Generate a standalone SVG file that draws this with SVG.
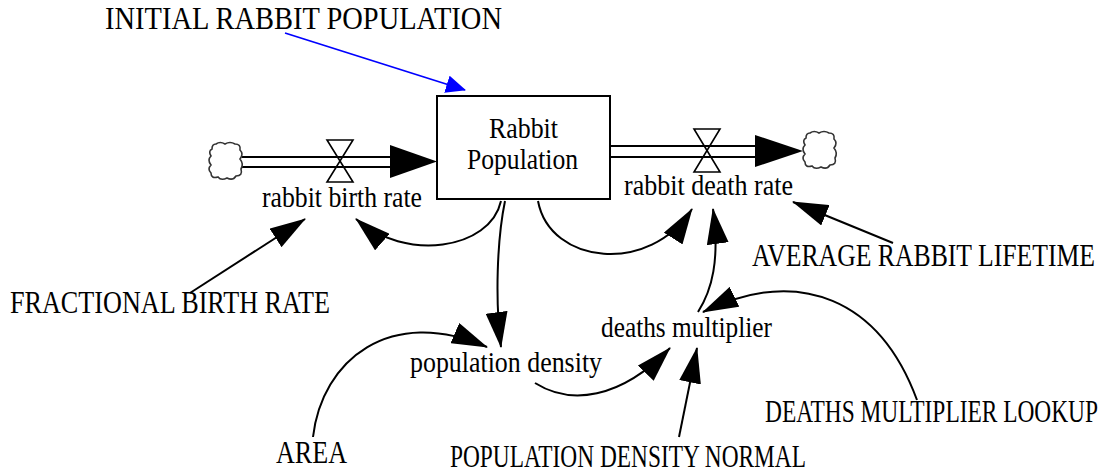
<svg xmlns="http://www.w3.org/2000/svg" width="1104" height="473" viewBox="0 0 1104 473">
<style>
  text { font-family: "Liberation Serif", "Times New Roman", serif; fill: #000; }
  .lc { font-size: 30px; }
  .uc { font-size: 31px; }
  .conn { fill: none; stroke: #000; stroke-width: 2; marker-end: url(#head); }
  .info { fill: none; stroke: #0000ff; stroke-width: 1.8; marker-end: url(#bluehead); }
  .pipe { stroke: #000; stroke-width: 2; }
  .fhead { fill: #000; }
  .valve { fill: none; stroke: #000; stroke-width: 1.6; }
  .cloud { fill: #fff; stroke: #333; stroke-width: 1.6; }
  .stock { fill: #fff; stroke: #000; stroke-width: 2; }
</style>
<defs>
  <marker id="head" markerUnits="userSpaceOnUse" viewBox="0 0 36 22" markerWidth="36" markerHeight="22" refX="35" refY="11" orient="auto">
    <path d="M0,0 L36,11 L0,22 Z" fill="#000"/>
  </marker>
  <marker id="bluehead" markerUnits="userSpaceOnUse" viewBox="0 0 20 18" markerWidth="20" markerHeight="18" refX="19" refY="9" orient="auto">
    <path d="M0,0 L20,9 L0,18 Z" fill="#0000ff"/>
  </marker>
  <path id="cloudshape" d="M8,2 Q12,-1 17,2 Q22,-1 27,2 Q33,2 32,8 Q36,12 32,17 Q36,22 33,27 Q35,34 28,34 Q25,39 19,36 Q13,39 10,35 Q3,37 3,31 Q-1,27 3,23 Q-1,18 3,14 Q0,9 4,7 Q4,2 8,2 Z"/>
</defs>

<g id="flows">
  <line class="pipe" x1="242" y1="157" x2="392" y2="157"/>
  <line class="pipe" x1="242" y1="167" x2="392" y2="167"/>
  <polygon class="fhead" points="390,145 437,161.5 390,178"/>
  <line class="pipe" x1="611" y1="146" x2="757" y2="146"/>
  <line class="pipe" x1="611" y1="157" x2="757" y2="157"/>
  <polygon class="fhead" points="755,135 803,151 755,167"/>
</g>

<g id="cloud-source">
  <use href="#cloudshape" class="cloud" transform="translate(208,142)"/>
</g>
<g id="cloud-sink">
  <use href="#cloudshape" class="cloud" transform="translate(802,131)"/>
</g>

<g id="stock-rabbit-population">
  <rect class="stock" x="437" y="96" width="173" height="103"/>
  <text class="lc" transform="translate(489,138) scale(0.8625,1)" textLength="80" lengthAdjust="spacingAndGlyphs">Rabbit</text>
  <text class="lc" transform="translate(467,169) scale(0.854,1)" textLength="130" lengthAdjust="spacingAndGlyphs">Population</text>
</g>

<g id="rate-rabbit-birth-rate">
  <path class="valve" d="M327,140 L353,140 L327,182 L353,182 Z"/>
  <text class="lc" transform="translate(262,207) scale(0.857,1)" textLength="186.7" lengthAdjust="spacingAndGlyphs">rabbit birth rate</text>
</g>

<g id="rate-rabbit-death-rate">
  <path class="valve" d="M694,129 L720,129 L694,172 L720,172 Z"/>
  <text class="lc" transform="translate(624,195) scale(0.867,1)" textLength="195" lengthAdjust="spacingAndGlyphs">rabbit death rate</text>
</g>

<g id="initial-rabbit-population">
  <text class="uc" transform="translate(105,29) scale(0.908,1)" textLength="437.2" lengthAdjust="spacingAndGlyphs">INITIAL RABBIT POPULATION</text>
</g>
<g id="fractional-birth-rate">
  <text class="uc" transform="translate(10,313) scale(0.829,1)" textLength="386" lengthAdjust="spacingAndGlyphs">FRACTIONAL BIRTH RATE</text>
</g>
<g id="average-rabbit-lifetime">
  <text class="uc" transform="translate(752,266) scale(0.82,1)" textLength="418.3" lengthAdjust="spacingAndGlyphs">AVERAGE RABBIT LIFETIME</text>
</g>
<g id="deaths-multiplier">
  <text class="lc" transform="translate(601,337) scale(0.844,1)" textLength="202.6" lengthAdjust="spacingAndGlyphs">deaths multiplier</text>
</g>
<g id="population-density">
  <text class="lc" transform="translate(410,372) scale(0.863,1)" textLength="222.5" lengthAdjust="spacingAndGlyphs">population density</text>
</g>
<g id="deaths-multiplier-lookup">
  <text class="uc" transform="translate(765,422) scale(0.744,1)" textLength="447.6" lengthAdjust="spacingAndGlyphs">DEATHS MULTIPLIER LOOKUP</text>
</g>
<g id="area">
  <text class="uc" transform="translate(276,463) scale(0.84,1)" textLength="84.5" lengthAdjust="spacingAndGlyphs">AREA</text>
</g>
<g id="population-density-normal">
  <text class="uc" transform="translate(450,467) scale(0.746,1)" textLength="477.2" lengthAdjust="spacingAndGlyphs">POPULATION DENSITY NORMAL</text>
</g>

<g id="connectors">
  <path class="info" d="M285,33 L465,90"/>
  <path class="conn" d="M501,201 C490,250 405,262 356,219"/>
  <path class="conn" d="M538,201 C550,265 650,275 692,209"/>
  <path class="conn" d="M505,201 C497,240 495,300 501,347"/>
  <path class="conn" d="M313,437 C322,360 390,305 487,347"/>
  <path class="conn" d="M535,383 C570,405 620,400 670,348"/>
  <path class="conn" stroke-width="1.6" d="M679,437 L697,348"/>
  <path class="conn" d="M698,312 C712,290 720,260 713,209"/>
  <path class="conn" d="M917,400 C880,300 800,265 703,312"/>
  <path class="conn" d="M893,243 L793,202"/>
  <path class="conn" d="M190,293 L305,219"/>
</g>
</svg>
